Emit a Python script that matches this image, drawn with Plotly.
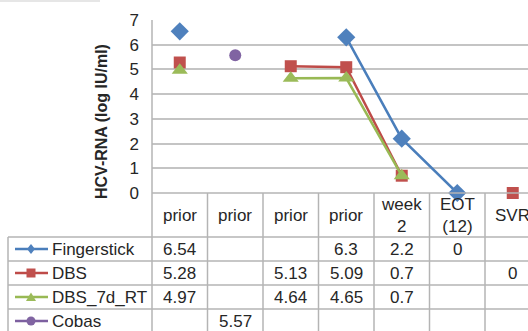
import plotly.graph_objects as go

# ---------------- data ----------------
categories = ["prior", "prior", "prior", "prior", "week<br>2", "EOT<br>(12)", "SVR"]
series_names = ["Fingerstick", "DBS", "DBS_7d_RT", "Cobas"]
fingerstick = [6.54, None, None, 6.3, 2.2, 0, None]
dbs = [5.28, None, 5.13, 5.09, 0.7, None, 0]
dbs_7d_rt = [4.97, None, 4.64, 4.65, 0.7, None, None]
cobas = [None, 5.57, None, None, None, None, None]
y_ticks = [0, 1, 2, 3, 4, 5, 6, 7]
y_title = "HCV-RNA (log IU/ml)"

series_values = [fingerstick, dbs, dbs_7d_rt, cobas]

# ---------------- layout geometry (pixels) ----------------
W, H = 528, 331
PLOT_L, PLOT_T, PLOT_B = 152, 20, 193
COL_W = 55.5
HEADER_B = 237
ROW_H = 24
LEG_L = 8
FONT = "Liberation Sans, Arial, sans-serif"
TXT = "#262626"
GRID = "#c4c4c4"
TAB = "#b4b4b4"


def px(x):
    return x / W


def py(y):
    return (H - y) / H


styles = [
    dict(line="#4a7ebb", marker="#4f81bd", symbol="diamond", size=14, key="diamond"),
    dict(line="#be4b48", marker="#c0504d", symbol="square", size=12, key="square"),
    dict(line="#98b954", marker="#9bbb59", symbol="triangle-up", size=14, key="triangle"),
    dict(line="#7d60a0", marker="#8064a2", symbol="circle", size=12, key="circle"),
]

fig = go.Figure()
xs = list(range(len(categories)))
for name, vals, st in zip(series_names, series_values, styles):
    fig.add_trace(go.Scatter(
        x=xs, y=vals, name=name, mode="lines+markers", connectgaps=False,
        line=dict(color=st["line"], width=2.5),
        marker=dict(symbol=st["symbol"], size=st["size"], color=st["marker"],
                    line=dict(width=0)),
        cliponaxis=False, showlegend=False,
    ))

x_max = -0.5 + (W - PLOT_L) / COL_W

shapes = []
annotations = []

# faint bar at very top-left (cropped element in the source)
shapes.append(dict(type="rect", xref="paper", yref="paper", x0=0, x1=px(100),
                   y0=py(2), y1=py(0), fillcolor="#e6e6e6", line=dict(width=0), layer="below"))

# left axis line (through plot and table)
shapes.append(dict(type="line", xref="paper", yref="paper", x0=px(PLOT_L), x1=px(PLOT_L),
                   y0=py(PLOT_T), y1=py(H + 2), line=dict(color=TAB, width=1.5)))
# bottom of plot / top of header
shapes.append(dict(type="line", xref="paper", yref="paper", x0=px(PLOT_L), x1=1,
                   y0=py(PLOT_B), y1=py(PLOT_B), line=dict(color=TAB, width=1.5)))
# row lines
row_tops = [HEADER_B + i * ROW_H for i in range(len(series_names))]
for yt in row_tops:
    shapes.append(dict(type="line", xref="paper", yref="paper", x0=px(LEG_L), x1=1,
                       y0=py(yt), y1=py(yt), line=dict(color=TAB, width=1.5)))
# legend column left line
shapes.append(dict(type="line", xref="paper", yref="paper", x0=px(LEG_L), x1=px(LEG_L),
                   y0=py(HEADER_B), y1=py(H + 2), line=dict(color=TAB, width=1.5)))
# column separators
for i in range(len(categories)):
    shapes.append(dict(type="line", xref="x", yref="paper", x0=i + 0.5, x1=i + 0.5,
                       y0=py(PLOT_B), y1=py(H + 2), line=dict(color=TAB, width=1.5)))

# header texts
for i, c in enumerate(categories):
    annotations.append(dict(x=i, y=py((PLOT_B + HEADER_B) / 2), xref="x", yref="paper",
                            text=c, showarrow=False, font=dict(size=17, color=TXT, family=FONT),
                            xanchor="center", yanchor="middle"))

# rows: legend keys + values
for r, (name, vals, st) in enumerate(zip(series_names, series_values, styles)):
    yc = row_tops[r] + ROW_H / 2
    shapes.append(dict(type="line", xref="paper", yref="paper", x0=px(15), x1=px(48),
                       y0=py(yc), y1=py(yc), line=dict(color=st["line"], width=2.5)))
    common = dict(xref="paper", yref="paper", xsizemode="pixel", ysizemode="pixel",
                  xanchor=px(31), yanchor=py(yc), fillcolor=st["marker"], line=dict(width=0))
    if st["key"] == "diamond":
        shapes.append(dict(type="path", path="M0,-5 L4,0 L0,5 L-4,0 Z", **common))
    elif st["key"] == "square":
        shapes.append(dict(type="rect", x0=-4.5, x1=4.5, y0=-4.5, y1=4.5, **common))
    elif st["key"] == "triangle":
        shapes.append(dict(type="path", path="M-5,-4 L5,-4 L0,4.5 Z", **common))
    else:
        shapes.append(dict(type="circle", x0=-4.5, x1=4.5, y0=-4.5, y1=4.5, **common))
    annotations.append(dict(x=px(50), y=py(yc), xref="paper", yref="paper", text=name,
                            showarrow=False, xanchor="left", yanchor="middle",
                            font=dict(size=17, color=TXT, family=FONT)))
    for i, v in enumerate(vals):
        if v is None:
            continue
        annotations.append(dict(x=i, y=py(yc), xref="x", yref="paper", text=f"{v:g}",
                                showarrow=False, xanchor="center", yanchor="middle",
                                font=dict(size=17, color=TXT, family=FONT)))

# y-axis title
annotations.append(dict(x=px(101), y=py(122), xref="paper", yref="paper",
                        text=f"<b>{y_title}</b>", textangle=-90, showarrow=False,
                        xanchor="center", yanchor="middle",
                        font=dict(size=16, color=TXT, family=FONT)))

fig.update_layout(
    width=W, height=H, margin=dict(l=0, r=0, t=0, b=0),
    paper_bgcolor="white", plot_bgcolor="white", template="none",
    showlegend=False, shapes=shapes, annotations=annotations,
    xaxis=dict(domain=[px(PLOT_L), 1], range=[-0.5, x_max], showticklabels=False,
               showgrid=False, zeroline=False, showline=False, ticks="", automargin=False,
               fixedrange=True),
    yaxis=dict(domain=[py(PLOT_B), py(PLOT_T)], range=[0, 7], tickvals=y_ticks,
               showgrid=True, gridcolor=GRID, gridwidth=1.5, zeroline=False,
               showline=False, ticks="", ticklabelstandoff=12, automargin=False,
               tickfont=dict(size=17, color=TXT, family=FONT), fixedrange=True),
)

fig.write_html("out.html")
